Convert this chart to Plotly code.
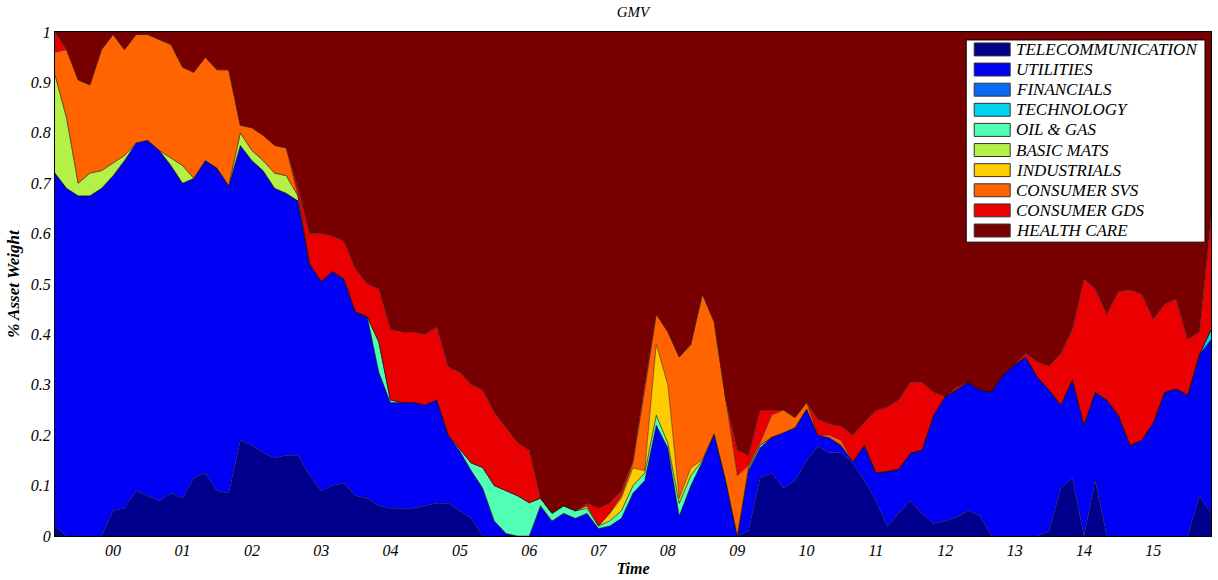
import pandas as pd
import plotly.graph_objects as go

# Bi-monthly observation dates of the GMV portfolio weights
dates = pd.date_range("1999-03-01", "2015-11-01", freq="2MS")

sectors = [
    "TELECOMMUNICATION", "UTILITIES", "FINANCIALS", "TECHNOLOGY", "OIL & GAS",
    "BASIC MATS", "INDUSTRIALS", "CONSUMER SVS", "CONSUMER GDS", "HEALTH CARE",
]

telecom = [
    .02, 0, 0, 0, 0, .05, .055, .09, .08, .07,
    .085, .075, .115, .125, .09, .085, .19, .18, .165, .155,
    .16, .16, .12, .09, .10, .105, .08, .075, .06, .055,
    .055, .055, .06, .065, .065, .05, .035, 0, 0, 0,
    0, 0, 0, 0, 0, 0, 0, 0, 0, 0,
    0, 0, 0, 0, 0, 0, 0, 0, 0, 0,
    .01, .115, .125, .095, .11, .15, .178, .165, .165, .145,
    .11, .07, .02, .045, .07, .044, .025, .03, .037, .05,
    .04, 0, 0, 0, 0, 0, .01, .095, .115, 0,
    .11, 0, 0, 0, 0, 0, 0, 0, 0, .08,
    .045,
]
utilities = [
    .70, .69, .675, .675, .69, .665, .69, .69, .705, .695,
    .65, .625, .595, .62, .64, .61, .585, .565, .56, .535,
    .52, .505, .42, .415, .425, .405, .365, .36, .265, .21,
    .21, .21, .20, .205, .135, .118, .095, .095, .03, .005,
    0, 0, .06, .03, .045, .035, .045, .015, .02, .035,
    .085, .11, .22, .175, .04, .10, .148, .203, .11, 0,
    .12, .06, .071, .11, .105, .102, .022, .03, .015, .002,
    .07, .056, .108, .088, .094, .127, .215, .247, .253, .255,
    .25, .286, .32, .34, .355, .315, .28, .165, .195, .221,
    .175, .27, .24, .18, .19, .225, .285, .292, .28, .28,
    .345,
]
financials = [0] * 101
technology = [0] * 100 + [.02]
oil_gas = [
    0, 0, 0, 0, 0, 0, 0, 0, 0, 0,
    0, 0, 0, 0, 0, 0, 0, 0, 0, 0,
    0, 0, 0, 0, 0, 0, 0, 0, .06, .005,
    0, 0, 0, 0, 0, .004, .015, .041, .07, .085,
    .08, .066, .015, .015, .015, .015, .01, .005, .01, .015,
    .015, .015, .02, .01, .025, .02, .002, 0, 0, 0,
    .005, .005, 0, 0, 0, 0, 0, 0, 0, 0,
    0, 0, 0, 0, 0, 0, 0, 0, 0, 0,
    0, 0, 0, 0, 0, 0, 0, 0, 0, 0,
    0, 0, 0, 0, 0, 0, 0, 0, 0, 0,
    0,
]
basic_mats = [
    .195, .14, .025, .045, .035, .025, .01, 0, 0, 0,
    .015, .035, 0, 0, 0, 0, .025, .02, .02, .03,
    .035, .01, 0, 0, 0, 0, 0, 0, 0, 0,
] + [0] * 71
industrials = [0] * 46 + [
    .005, 0, .015, .025, .035, .005, .14, .115, .01, .015, .002,
] + [0] * 44
consumer_svs = [
    .045, .135, .205, .175, .24, .255, .21, .215, .21, .22,
    .225, .195, .21, .205, .195, .23, .015, .045, .05, .055,
    .055, 0, 0, 0, 0, 0, 0, 0, 0, 0,
    0, 0, 0, 0, 0, 0, 0, 0, 0, 0,
    0, 0, 0, 0, 0, 0, 0, 0, 0, .005,
    .01, .16, .06, .105, .28, .245, .328, .222, .16, .12,
    .005, .005, .044, .045, .02, .013, 0, .005, .01, 0,
] + [0] * 31
consumer_gds = [
    .04, 0, 0, 0, 0, 0, 0, 0, 0, 0,
    0, 0, 0, 0, 0, 0, 0, 0, 0, 0,
    0, .015, .06, .095, .07, .075, .085, .065, .105, .14,
    .14, .14, .14, .145, .135, .153, .155, .154, .145, .125,
    .105, .104, 0, 0, 0, 0, .005, .035, .02, .01,
    .005, .01, 0, 0, 0, 0, 0, 0, 0, .05,
    .02, .065, .01, 0, 0, 0, .032, .022, .028, .053,
    .045, .123, .128, .137, .141, .134, .045, 0, .005, 0,
    0, 0, 0, 0, .007, .03, .047, .102, .10, .289,
    .205, .17, .245, .308, .29, .205, .175, .178, .11, .045,
    .22,
]
health_care = [
    0, .035, .095, .105, .035, .005, .035, .005, .005, .015,
    .025, .07, .08, .05, .075, .075, .185, .19, .205, .225,
    .23, .31, .40, .40, .405, .415, .47, .50, .51, .59,
    .595, .595, .60, .585, .665, .675, .70, .71, .755, .785,
    .815, .83, .925, .955, .94, .95, .935, .945, .935, .91,
    .85, .70, .56, .595, .645, .62, .52, .575, .73, .83,
    .84, .75, .75, .75, .765, .735, .768, .778, .782, .80,
    .775, .751, .744, .73, .695, .695, .715, .723, .705, .695,
    .71, .714, .68, .66, .638, .655, .663, .638, .59, .49,
    .51, .56, .515, .512, .52, .57, .54, .53, .61, .595,
    .37,
]

weights = [telecom, utilities, financials, technology, oil_gas,
           basic_mats, industrials, consumer_svs, consumer_gds, health_care]

colors = ["#00008c", "#0000f5", "#0a6af0", "#00d4f0", "#50ffb4",
          "#b4f046", "#ffcc00", "#ff6400", "#ea0000", "#780000"]

serif = "Liberation Serif, Times New Roman, serif"

fig = go.Figure()
for name, w, c in zip(sectors, weights, colors):
    fig.add_trace(go.Scatter(
        x=dates, y=w, name=name, mode="lines",
        stackgroup="sectors",
        line=dict(width=0.6, color="rgba(20,20,20,0.8)"),
        fillcolor=c, showlegend=False,
    ))

# Plot-area geometry in pixels (figure 1218 x 580)
W, H = 1218, 580
ML, MR, MT, MB = 55, 6, 32, 42
PW, PH = W - ML - MR, H - MT - MB


def px(x):
    return (x - ML) / PW


def py(y):
    return (H - MB - y) / PH


# Boxed legend with large colour swatches
shapes = [dict(type="rect", xref="paper", yref="paper",
               x0=px(967), x1=px(1206), y0=py(243), y1=py(40),
               fillcolor="white", line=dict(color="black", width=1),
               layer="above")]
annotations = []
row0, step = 49.5, 20.2
for k, (name, c) in enumerate(zip(sectors, colors)):
    yc = row0 + k * step
    shapes.append(dict(type="rect", xref="paper", yref="paper",
                       x0=px(975), x1=px(1011), y0=py(yc + 6.5), y1=py(yc - 6.5),
                       fillcolor=c, line=dict(color="#333333", width=1),
                       layer="above"))
    annotations.append(dict(x=px(1015), y=py(yc), xref="paper", yref="paper",
                            text=name, showarrow=False,
                            xanchor="left", yanchor="middle",
                            font=dict(family=serif, size=17, style="italic",
                                      color="black")))

fig.update_layout(
    width=W, height=H,
    margin=dict(l=ML, r=MR, t=MT, b=MB),
    paper_bgcolor="white", plot_bgcolor="white",
    title=dict(text="GMV", x=0.5, xref="paper", y=1 - 12 / H,
               yref="container", yanchor="middle",
               font=dict(family=serif, size=15, style="italic", color="black")),
    showlegend=False,
    shapes=shapes,
    annotations=annotations,
)

fig.update_xaxes(
    type="date", range=["1999-03-01", "2015-11-01"],
    tick0="2000-01-01", dtick="M12", tickformat="%y",
    ticks="", showgrid=False, zeroline=False,
    showline=True, mirror=True, linecolor="black", linewidth=1,
    tickfont=dict(family=serif, size=16, style="italic", color="black"),
    title=dict(text="Time", standoff=4,
               font=dict(family=serif, size=16, style="italic",
                         weight="bold", color="black")),
)
fig.update_yaxes(
    range=[0, 1], dtick=0.1, tick0=0,
    ticks="", showgrid=False, zeroline=False,
    showline=True, mirror=True, linecolor="black", linewidth=1,
    tickfont=dict(family=serif, size=16, style="italic", color="black"),
    title=dict(text="% Asset Weight", standoff=6,
               font=dict(family=serif, size=17, style="italic",
                         weight="bold", color="black")),
)

fig.write_html("out.html")
